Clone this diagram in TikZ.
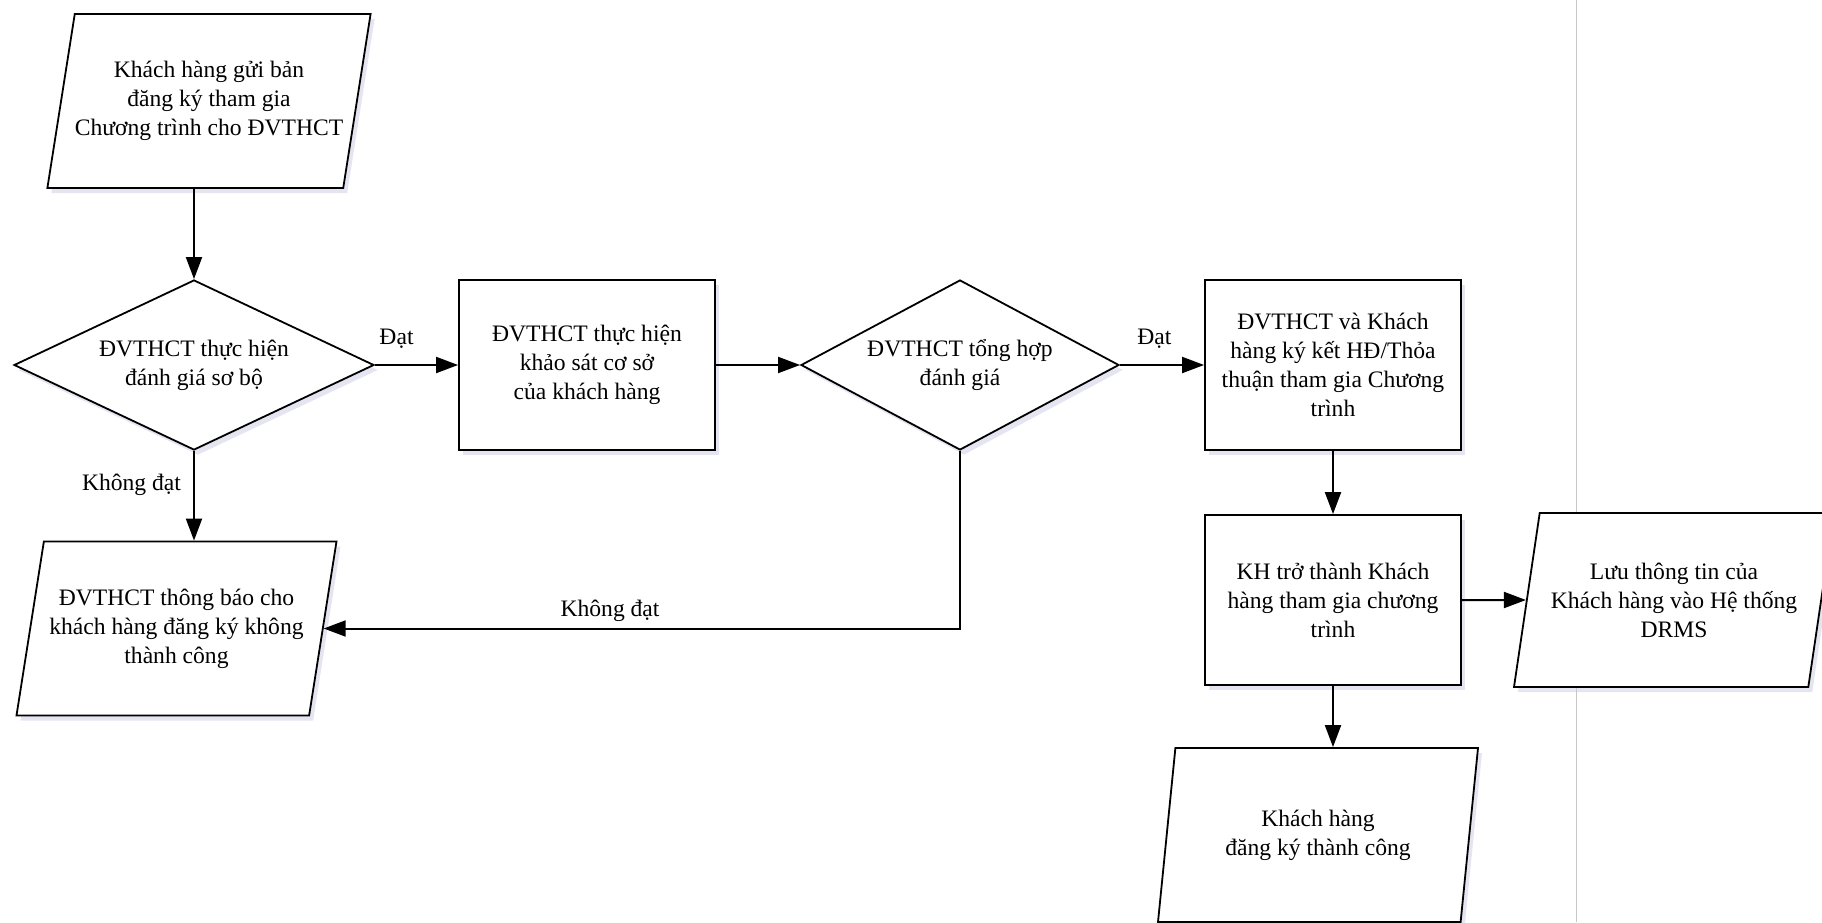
\documentclass[tikz,border=0pt]{standalone}
\usepackage{fontspec}
\setmainfont{Liberation Serif}
\usetikzlibrary{shapes.geometric,arrows.meta,positioning,shadows}
\tikzset{
  vshadow/.style={
    drop shadow={shadow xshift=2pt, shadow yshift=-2.5pt, fill=blue!30!gray!35, opacity=0.45}
  },
  shapebase/.style={
    draw, fill=white,
    line width=0.9pt,
    align=center,
    vshadow
  }
}
\tikzset{
  procnode/.style={shapebase, rectangle, minimum width=128pt, minimum height=85pt, inner sep=2pt},
  decnode/.style={shapebase, diamond, aspect=2.1, minimum width=#1, minimum height=85pt, inner sep=0pt},
  datanode/.style={
    shapebase, trapezium,
    trapezium left angle=71,
    trapezium right angle=109,
    trapezium stretches body=true,
    minimum width=160pt,
    minimum height=87pt,
    inner sep=0pt
  },
  edgelabel/.style={inner sep=1pt},
  sepline/.style={draw=black!22, line width=0.5pt}
}
\def\colsep{186.5pt}
\def\rowsep{117.5pt}
\def\paraoff{7.5pt}

\begin{document}
\begin{tikzpicture}[>={Triangle[length=11pt,width=8pt]}, line width=1pt,
    font=\fontsize{11.8}{14.5}\selectfont]
    \useasboundingbox (-97pt,182.5pt) rectangle (814pt,-278.5pt);

    %% Lane separator
    \draw[sepline] (691pt,182.5pt) -- (691pt,-278.5pt);

    %% First check
    \node[decnode=180pt] (d1) at (0,0) {ĐVTHCT thực hiện\\đánh giá sơ bộ};
    \node[datanode, above of=d1, node distance=132pt, xshift=\paraoff] (p1) {Khách hàng gửi bản\\đăng ký tham gia\\Chương trình cho ĐVTHCT};
    \node[datanode, below of=d1, node distance=131.75pt, xshift=-8.75pt] (p2) {ĐVTHCT thông báo cho\\khách hàng đăng ký không\\thành công};

    %% Survey and second check
    \node[procnode, right of=d1, node distance=196.5pt] (b1) {ĐVTHCT thực hiện\\khảo sát cơ sở\\của khách hàng};
    \node[decnode=159pt, right of=b1, node distance=\colsep] (d2) {ĐVTHCT tổng hợp\\đánh giá};

    %% Contract
    \node[procnode, right of=d2, node distance=\colsep] (b2) {ĐVTHCT và Khách\\hàng ký kết HĐ/Thỏa\\thuận tham gia Chương\\trình};
    \node[procnode, below of=b2, node distance=\rowsep] (b3) {KH trở thành Khách\\hàng tham gia chương\\trình};
    \node[datanode, below of=b3, node distance=\rowsep, xshift=-\paraoff] (p4) {Khách hàng\\đăng ký thành công};
    \node[datanode, right of=b3, node distance=170.5pt] (p3) {Lưu thông tin của\\Khách hàng vào Hệ thống\\DRMS};

    %% Edges
    \draw[->] (p1.south -| d1) -- (d1);
    \draw[->] (d1) -- node[edgelabel, pos=0.26, above=7pt] {Đạt} (b1);
    \draw[->] (d1) -- node[edgelabel, pos=0.38, left=5pt] {Không đạt} (d1 |- p2.north);
    \draw[->] (b1) -- (d2);
    \draw[->] (d2) -- node[edgelabel, pos=0.41, above=7pt] {Đạt} (b2);
    % failed second check back to notice
    \draw[->] (d2) |- node[edgelabel, pos=0.775, above=2pt] {Không đạt} (p2.east);
    \draw[->] (b2) -- (b3);
    \draw[->] (b3) -- (b3 |- p4.north);
    \draw[->] (b3) -- (p3);

  \end{tikzpicture}
\end{document}
